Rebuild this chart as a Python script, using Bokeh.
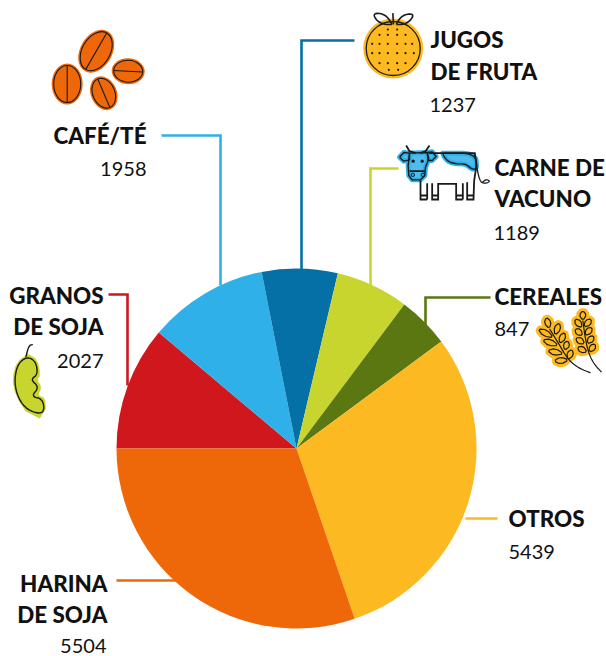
import numpy as np
from bokeh.plotting import figure
from bokeh.models import Range1d
from bokeh.core.properties import value
from bokeh.embed import file_html
from bokeh.resources import INLINE

categories = ["GRANOS DE SOJA", "CAFÉ/TÉ", "JUGOS DE FRUTA", "CARNE DE VACUNO", "CEREALES", "OTROS", "HARINA DE SOJA"]
values = [2027, 1958, 1237, 1189, 847, 5439, 5504]
colors = ["#cf171d", "#2fb0e8", "#0570a6", "#c9d52f", "#5a7712", "#fdb921", "#ee6709"]
value_labels = ["2027", "1958", "1237", "1189", "847", "5439", "5504"]

DARK = "#1a1a1a"
W, H = 606, 656
FONT = "Lato Black"

p = figure(width=W, height=H, x_range=Range1d(0, W), y_range=Range1d(0, H),
           output_backend="svg", toolbar_location=None, min_border=0)
p.axis.visible = False
p.grid.visible = False
p.outline_line_color = None
p.background_fill_color = "white"
p.border_fill_color = "white"

def Y(v):
    return H - np.asarray(v, dtype=float)

def chaikin(pts, closed=False, n=3):
    pts = [tuple(map(float, q)) for q in pts]
    for _ in range(n):
        out = []
        m = len(pts)
        rng = range(m) if closed else range(m - 1)
        if not closed:
            out.append(pts[0])
        for i in rng:
            a, b = pts[i], pts[(i + 1) % m]
            out.append((0.75 * a[0] + 0.25 * b[0], 0.75 * a[1] + 0.25 * b[1]))
            out.append((0.25 * a[0] + 0.75 * b[0], 0.25 * a[1] + 0.75 * b[1]))
        if not closed:
            out.append(pts[-1])
        pts = out
    return pts

# pie
vals = np.array(values, dtype=float)
cw = 270 + np.concatenate([[0], np.cumsum(vals)[:-1]]) / vals.sum() * 360
cw_end = cw + vals / vals.sum() * 360
p.wedge(x=296, y=Y(448), radius=180,
        start_angle=np.deg2rad(90 - cw), end_angle=np.deg2rad(90 - cw_end),
        direction="clock", fill_color=colors, line_color=None)

# leaders
leaders = [
    ([108, 127, 127], [294, 294, 385], colors[0]),
    ([161, 220, 220], [135, 135, 285], colors[1]),
    ([354, 301, 301], [40, 40, 270], colors[2]),
    ([398, 370, 370], [168, 168, 285], colors[3]),
    ([490, 425, 425], [297, 297, 325], colors[4]),
    ([497, 465], [518, 518], colors[5]),
    ([116, 175], [580, 580], colors[6]),
]
for lx, ly, c in leaders:
    p.line(lx, Y(ly), line_color=c, line_width=2.6, line_join="miter")

# text
def bold(x, y, t, align):
    p.text([x], Y([y - 1]), text=[t], text_font=value(FONT), text_font_size="22.4px",
           text_color="#111111", text_align=align, text_baseline="middle")

def num(x, y, t, align):
    p.text([x], Y([y]), text=[t], text_font=value("Lato"), text_font_size="20px",
           text_color="#111111", text_align=align, text_baseline="middle")

bold(103, 296, "GRANOS", "right"); bold(103, 327, "DE SOJA", "right"); num(103, 360, value_labels[0], "right")
bold(146, 136, categories[1], "right"); num(146, 168, value_labels[1], "right")
bold(430, 40, "JUGOS", "left"); bold(430, 72, "DE FRUTA", "left"); num(429, 104, value_labels[2], "left")
bold(494, 168, "CARNE DE", "left"); bold(494, 199, "VACUNO", "left"); num(493, 232, value_labels[3], "left")
bold(494, 297, categories[4], "left"); num(494, 328, value_labels[4], "left")
bold(508, 519, categories[5], "left"); num(508, 551, value_labels[5], "left")
bold(107, 584, "HARINA", "right"); bold(107, 615, "DE SOJA", "right"); num(106, 645, value_labels[6], "right")

# beans
beans = [(66.7, 83.5, 41, 31, 90), (95.7, 50.7, 46, 32, 60), (127.7, 70.7, 33, 26, -3), (103.3, 92.7, 35, 26, 113)]
for bx, by, l, w, a in beans:
    p.ellipse([bx], Y([by]), width=l, height=w, angle=np.deg2rad(a), fill_color="#ee6709", line_color=None)
    p.ellipse([bx], Y([by]), width=l - 4, height=w - 4, angle=np.deg2rad(a), fill_color="#ee6709",
              line_color=DARK, line_width=1.1)
    dx, dy = (l - 4) / 2 * np.cos(np.deg2rad(a)), (l - 4) / 2 * np.sin(np.deg2rad(a))
    p.line([bx - dx, bx + dx], [H - by - dy, H - by + dy], line_color=DARK, line_width=1.1)

# orange
p.circle([392.7], Y([48]), radius=30, fill_color="#fdb921", line_color=None)
p.circle([392.7], Y([48]), radius=27, fill_color="#fdb921", line_color=DARK, line_width=1.3)
rows = {87: [112, 140], 103: [87, 112, 140, 165], 130: [65, 87, 112, 140, 165, 185],
        158: [65, 87, 112, 140, 165, 190], 188: [87, 112, 140, 165], 208: [115, 143]}
for ry, xs in rows.items():
    p.circle([x / 3 + 350 for x in xs], Y([ry / 3] * len(xs)), radius=1.1, fill_color=DARK, line_color=None)
def zo(pts):
    return [a / 3 + 350 for a, b in pts], Y([b / 3 for a, b in pts])
for pts in ([(125, 72), (110, 48), (90, 38), (68, 40), (78, 60), (100, 72), (125, 72)],
            [(137, 72), (150, 50), (170, 40), (190, 42), (180, 60), (160, 72), (137, 72)],
            [(127, 38), (129, 72)]):
    xx, yy = zo(chaikin(pts, n=2))
    p.line(xx, yy, line_color=DARK, line_width=1.6)

# cow
def zc(pts):
    return [a / 3 + 385 for a, b in pts], Y([b / 3 + 130 for a, b in pts])
BLUE = "#2fb0e8"
head = [(72, 68), (125, 66), (130, 85), (120, 110), (118, 135), (105, 148), (80, 148), (70, 135), (68, 105)]
earl = [(42, 80), (55, 66), (72, 68), (72, 88), (55, 92)]
earr = [(125, 66), (140, 64), (152, 78), (140, 90), (128, 90)]
spot = [(172, 68), (268, 68), (275, 112), (262, 118), (240, 100), (215, 100), (190, 95), (175, 78), (172, 68)]
spot_smooth = chaikin(spot, n=2)
for shape in (head, earl, earr, spot_smooth):
    xx, yy = zc(shape)
    p.patch(xx, yy, fill_color="#4fbcec", line_color=BLUE, line_width=5, line_join="round")
for shape in (head, earl, earr, spot_smooth):
    xx, yy = zc(shape + shape[:1])
    p.line(xx, yy, line_color=DARK, line_width=1.4, line_join="round")
cow_lines = [
    [(62, 45), (72, 62), (90, 68)], [(132, 45), (120, 62), (105, 68)],
    [(130, 68), (268, 68), (273, 105), (266, 150), (264, 207), (245, 207), (245, 155)],
    [(264, 195), (245, 195)], [(232, 207), (212, 207), (212, 160), (158, 160), (158, 207), (140, 207), (140, 158)],
    [(232, 207), (232, 158)], [(212, 195), (232, 195)], [(158, 195), (140, 195)],
    [(125, 207), (105, 207), (105, 150)], [(125, 207), (125, 158)], [(105, 195), (125, 195)],
    [(72, 122), (118, 122)],
]
for pts in cow_lines:
    xx, yy = zc(pts)
    p.line(xx, yy, line_color=DARK, line_width=1.8, line_join="miter")
xx, yy = zc(chaikin([(272, 100), (282, 150), (295, 160), (315, 153), (302, 146), (290, 156)]))
p.line(xx, yy, line_color=DARK, line_width=1.3)
xx, yy = zc([(83, 92), (110, 92)])
p.circle(xx, yy, radius=1.7, fill_color=DARK, line_color=None)
xx, yy = zc([(82, 133), (112, 133)])
p.circle(xx, yy, radius=1.7, fill_color=BLUE, line_color=DARK, line_width=1)

# wheat
def zw(pts):
    return [a / 3 + 525 for a, b in pts], Y([b / 3 + 300 for a, b in pts])
def leaf(tip, base, width):
    t, b = np.array(tip, float), np.array(base, float)
    d = b - t
    n = np.array([-d[1], d[0]]) / np.hypot(*d) * width / 2
    pts = [t, t + 0.45 * d + n, b, t + 0.45 * d - n]
    return chaikin([tuple(q) for q in pts], closed=True, n=1)
kernels = [
    ((62, 50), (72, 85)), ((102, 66), (88, 105)), ((37, 85), (85, 112)), ((118, 95), (102, 130)),
    ((50, 118), (100, 135)), ((127, 120), (118, 150)), ((65, 150), (115, 160)), ((140, 146), (127, 178)),
    ((85, 182), (130, 178)),
    ((172, 30), (172, 60)), ((148, 55), (170, 82)), ((198, 55), (175, 80)), ((148, 85), (172, 105)),
    ((200, 80), (178, 105)), ((150, 112), (178, 130)), ((205, 105), (185, 130)), ((155, 140), (185, 155)),
    ((210, 130), (190, 155)),
]
for t, b in kernels:
    xx, yy = zw(leaf(t, b, 24))
    p.patch(xx, yy, fill_color="#fdb921", line_color="#fdb921", line_width=7, line_join="round")
for t, b in kernels:
    xx, yy = zw(leaf(t, b, 22))
    p.patch(xx, yy, fill_color="#fdb921", line_color=DARK, line_width=1.2, line_join="round")
for pts in ([(72, 85), (100, 130), (128, 178), (160, 203), (195, 217)],
            [(172, 60), (178, 105), (188, 155), (205, 190), (228, 215)]):
    xx, yy = zw(chaikin(pts))
    p.line(xx, yy, line_color=DARK, line_width=1.2)

# soy pod
def zs(pts):
    return [a / 3 for a, b in pts], Y([b / 3 + 280 for a, b in pts])
outer = chaikin([(82, 220), (112, 238), (120, 285), (110, 298), (124, 320), (112, 345), (134, 352), (136, 385)], n=1) + \
        [(118, 414)] + chaikin([(75, 392), (45, 345), (35, 295), (48, 245), (82, 220)], n=1)
inner = [(80, 228), (106, 243), (112, 282), (90, 297), (116, 320), (92, 348), (126, 355), (132, 392),
         (112, 400), (72, 382), (48, 340), (42, 295), (52, 250)]
xx, yy = zs(outer)
p.patch(xx, yy, fill_color="#c9d52f", line_color=None)
xx, yy = zs(chaikin(inner, closed=True, n=2))
p.line(xx + xx[:1], np.append(yy, yy[0]), line_color=DARK, line_width=1.4, line_join="round")
xx, yy = zs(chaikin([(76, 230), (85, 195), (97, 192)], n=2))
p.line(xx, yy, line_color=DARK, line_width=1.4)

open("out.html", "w").write(file_html(p, INLINE))
